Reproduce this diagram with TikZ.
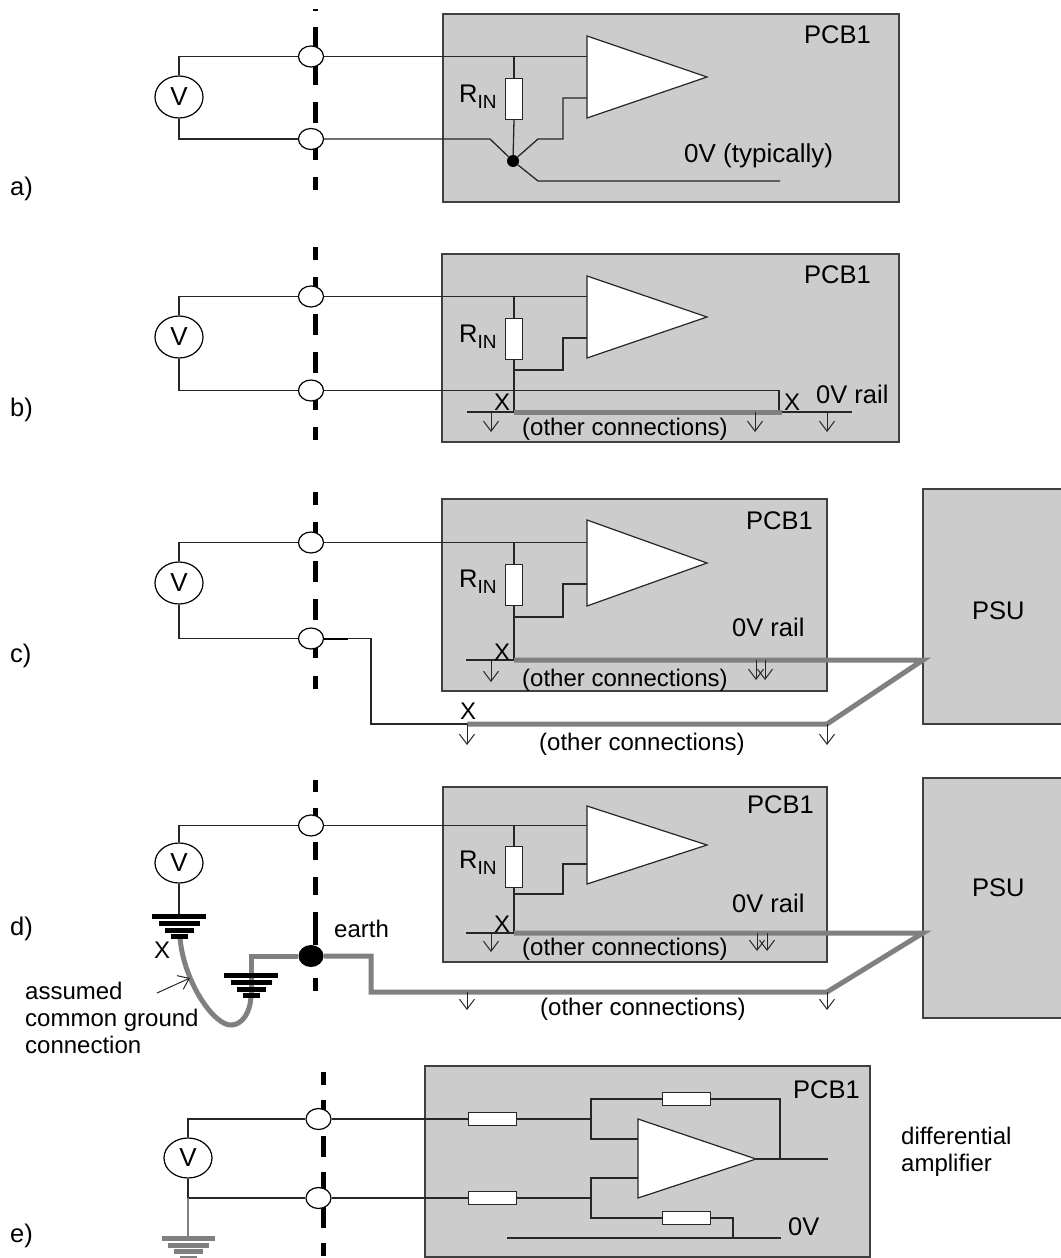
\documentclass[tikz,border=0pt]{standalone}
\usepackage{fontspec}
\setmainfont{Liberation Sans}
\usepackage{tikz}
\usetikzlibrary{arrows.meta, positioning, shapes.geometric, calc}
\newcommand{\rin}{R\raisebox{-6pt}{\fontsize{19}{19}\selectfont IN}}

\begin{document}
\begin{tikzpicture}[x=1pt, y=-1pt, font=\fontsize{24}{27}\selectfont,
                wire/.style={line width=1.3pt, black!85},
                rail/.style={line width=5pt, black!50},
                barrier/.style={line width=5pt, black},
                gnd arrow/.style={line width=1pt, black!85, -{Straight Barb[length=10pt, width=15pt]}},
                pcb box/.style={draw=black!75, line width=1.5pt, fill=black!20, anchor=north west, inner sep=0pt, outer sep=0pt},
                meter/.style={draw, ellipse, fill=white, line width=1.2pt, minimum width=48pt, minimum height=42pt, inner sep=0pt, font=\fontsize{26}{27}\selectfont},
                conn/.style={draw, ellipse, fill=white, line width=1.2pt, minimum width=25pt, minimum height=21pt, inner sep=0pt},
                res v/.style={draw=black!85, fill=white, line width=1.2pt, minimum width=17pt, minimum height=41pt, inner sep=0pt, anchor=north},
                res h/.style={draw=black!85, fill=white, line width=1.2pt, minimum width=48pt, minimum height=13pt, inner sep=0pt, anchor=west},
                amp/.style={draw=black!85, fill=white, line width=1.2pt, line join=miter},
                txt/.style={anchor=base west, inner sep=0pt},
                big txt/.style={txt, font=\fontsize{25.5}{27}\selectfont}]
    \useasboundingbox (0,0) rectangle (1060,1258);

    % Boards and supplies
    \node[pcb box, minimum width=456pt, minimum height=188pt] (pcba) at (443,14) {};
    \node[pcb box, minimum width=457pt, minimum height=188pt] (pcbb) at (442,254) {};
    \node[pcb box, minimum width=385pt, minimum height=192pt] (pcbc) at (442,499) {};
    \node[pcb box, minimum width=384pt, minimum height=175pt] (pcbd) at (443,787) {};
    \node[pcb box, minimum width=445pt, minimum height=191pt] (pcbe) at (425,1066) {};
    \node[pcb box, minimum width=139pt, minimum height=235pt] (psuc) at (923,489) {};
    \node[pcb box, minimum width=139pt, minimum height=240pt] (psud) at (923,778) {};
    \node[big txt] (psuctxt) at (972,619) {PSU};
    \node[big txt] (psudtxt) at (972,896) {PSU};

    % Dashed barriers
    \foreach \ya/\yb in {9/11, 27/85, 102/123, 130/160, 177/190,
                         247/260, 277/296, 314/335, 352/373, 400/410, 427/440,
                         492/505, 522/540, 561/582, 599/620, 648/658, 676/689,
                         780/792, 808/825, 842/860, 877/895, 912/945, 978/991}
        \draw[barrier] (315,\ya) -- (315,\yb);
    \foreach \ya/\yb in {1072/1085, 1100/1115, 1136/1157, 1172/1228, 1243/1256}
        \draw[barrier] (323,\ya) -- (323,\yb);

    % a) input stage
    \node[meter] (va) at (179,97) {V};
    \node[conn] (conna1) at (311,56.5) {};
    \node[conn] (conna2) at (311,139) {};
    \node[res v] (rina) at (514,78) {};
    \coordinate (topa) at (179,56.5);
    \coordinate (bota) at (179,139);
    \coordinate (inputa) at (587,56.5);
    \coordinate (amptopa) at (587,36);
    \coordinate (ampbota) at (587,118);
    \coordinate (ampouta) at (707,77);
    \coordinate (knee1a) at (490,139);
    \coordinate (knee2a) at (538,139);
    \coordinate (stepa) at (563,98);
    \coordinate (knee3a) at (538,181);
    \coordinate (enda) at (780,181);
    \node[circle, fill=black, minimum size=12pt, inner sep=0pt] (dota) at (513,161) {};
    \draw[wire] (va.north) -- (topa) -- (conna1.west);
    \draw[wire] (va.south) -- (bota) -- (conna2.west);
    \draw[wire] (conna1.east) -- (inputa);
    \draw[wire] (rina.north) -- (rina.north |- conna1.east);
    \draw[wire] (rina.south) -- (dota);
    \draw[wire] (conna2.east) -- (knee1a) -- (dota) -- (knee3a) -- (enda);
    \draw[wire] (dota) -- (knee2a) -| (stepa) -- (587,98);
    \draw[amp] (amptopa) -- (ampouta) -- (ampbota) -- cycle;
    \node[big txt] (rtxta) at (459,102) {\rin};
    \node[big txt] (pcbtxta) at (804,43) {PCB1};
    \node[big txt, font=\fontsize{26}{27}\selectfont] (ztxta) at (684,162) {0V (typically)};
    \node[big txt] (laba) at (10,195) {a)};

    % b) 0V rail on the board
    \node[meter] (vb) at (179,337) {V};
    \node[conn] (connb1) at (311,296.5) {};
    \node[conn] (connb2) at (311,390.5) {};
    \node[res v] (rinb) at (514,318) {};
    \coordinate (topb) at (179,296.5);
    \coordinate (botb) at (179,390.5);
    \coordinate (inputb) at (587,296.5);
    \coordinate (amptopb) at (587,276);
    \coordinate (ampbotb) at (587,358);
    \coordinate (ampoutb) at (707,317);
    \coordinate (stepb) at (563,370);
    \coordinate (raila) at (514,412);
    \coordinate (railb) at (782,412);
    \coordinate (railstartb) at (467,412);
    \coordinate (railendb) at (852,412);
    \coordinate (upb) at (779,390.5);
    \draw[wire] (vb.north) -- (topb) -- (connb1.west);
    \draw[wire] (vb.south) -- (botb) -- (connb2.west);
    \draw[wire] (connb1.east) -- (inputb);
    \draw[wire] (rinb.north) -- (rinb.north |- connb1.east);
    \draw[wire] (rinb.south) -- (raila);
    \draw[wire] (rinb.south |- stepb) -- (stepb) -- (563,338) -- (587,338);
    \draw[wire] (railstartb) -- (railendb);
    \draw[wire] (connb2.east) -- (upb) -- (upb |- railb);
    \draw[rail] (raila) -- (railb);
    \foreach \ax in {491,755,827} {
        \coordinate (stub) at (\ax,412);
        \draw[gnd arrow] (stub) -- ++(0,20);
    }
    \draw[amp] (amptopb) -- (ampoutb) -- (ampbotb) -- cycle;
    \node[big txt] (rtxtb) at (459,342) {\rin};
    \node[big txt] (pcbtxtb) at (804,283) {PCB1};
    \node[big txt] (ztxtb) at (816,403) {0V rail};
    \node[txt] (xb1) at (494,410) {X};
    \node[txt] (xb2) at (784,410) {X};
    \node[txt] (othb) at (522,435) {(other connections)};
    \node[big txt] (labb) at (10,416) {b)};

    % c) rail taken back to the supply
    \node[meter] (vc) at (179,583) {V};
    \node[conn] (connc1) at (311,542.5) {};
    \node[conn] (connc2) at (311,638.5) {};
    \node[res v] (rinc) at (514,564) {};
    \coordinate (topc) at (179,542.5);
    \coordinate (botc) at (179,638.5);
    \coordinate (inputc) at (587,542.5);
    \coordinate (amptopc) at (587,520);
    \coordinate (ampbotc) at (587,606);
    \coordinate (ampoutc) at (707,563);
    \coordinate (stepc) at (563,617);
    \coordinate (railc) at (514,660);
    \coordinate (railstartc) at (466,660);
    \coordinate (psupc) at (923,660);
    \coordinate (benc) at (827,724);
    \coordinate (retc) at (467,724);
    \coordinate (dropc) at (371,724);
    \coordinate (thickc) at (348,638.5);
    \draw[wire] (vc.north) -- (topc) -- (connc1.west);
    \draw[wire] (vc.south) -- (botc) -- (connc2.west);
    \draw[wire] (connc1.east) -- (inputc);
    \draw[wire] (rinc.north) -- (rinc.north |- connc1.east);
    \draw[wire] (rinc.south) -- (railc);
    \draw[wire] (rinc.south |- stepc) -- (stepc) -- (563,584) -- (587,584);
    \draw[wire] (railstartc) -- (railc);
    \draw[wire] (connc2.east) -- (dropc |- connc2.east) -- (dropc) -- (retc);
    \draw[line width=2pt] (connc2.east) -- (thickc);
    \draw[rail] (railc) -- (psupc) -- (benc) -- (retc);
    \foreach \ax/\ay/\al in {491/660/22, 756/660/20, 765/660/20, 467/724/21, 827/724/21} {
        \coordinate (stub) at (\ax,\ay);
        \draw[gnd arrow] (stub) -- ++(0,\al);
    }
    \draw[amp] (amptopc) -- (ampoutc) -- (ampbotc) -- cycle;
    \node[big txt] (rtxtc) at (459,587) {\rin};
    \node[big txt] (pcbtxtc) at (746,529) {PCB1};
    \node[big txt] (ztxtc) at (732,636) {0V rail};
    \node[txt] (xc1) at (494,660) {X};
    \node[txt] (xc2) at (460,719) {X};
    \node[txt] (othc1) at (522,686) {(other connections)};
    \node[txt] (othc2) at (539,750) {(other connections)};
    \node[big txt] (labc) at (10,662) {c)};

    % d) common ground
    \node[meter, minimum height=40pt] (vd) at (179,863) {V};
    \node[conn] (connd1) at (311,825.5) {};
    \node[res v] (rind) at (514,846) {};
    \coordinate (topd) at (179,825.5);
    \coordinate (inputd) at (587,825.5);
    \coordinate (gnda) at (179,914);
    \coordinate (gndb) at (251,973);
    \coordinate (amptopd) at (587,806);
    \coordinate (ampbotd) at (587,884);
    \coordinate (ampoutd) at (707,845);
    \coordinate (stepd) at (563,894);
    \coordinate (raild) at (514,933);
    \coordinate (railstartd) at (466,933);
    \coordinate (psupd) at (923,933);
    \coordinate (bend) at (827,992);
    \coordinate (dropd) at (371,992);
    \coordinate (cornerd) at (371,956);
    \coordinate (leftd) at (251,956);
    \coordinate (curvea) at (180,938);
    \coordinate (curveb) at (232,1025);
    \coordinate (curvec) at (251,997);
    \coordinate (ptra) at (157,993);
    \coordinate (ptrb) at (190,978);
    \node[ellipse, fill=black, minimum width=25pt, minimum height=22pt, inner sep=0pt] (earthd) at (311,956) {};
    \draw[wire] (vd.north) -- (topd) -- (connd1.west);
    \draw[wire] (vd.south) -- (gnda);
    \draw[wire] (connd1.east) -- (inputd);
    \draw[wire] (rind.north) -- (rind.north |- connd1.east);
    \draw[wire] (rind.south) -- (raild);
    \draw[wire] (rind.south |- stepd) -- (stepd) -- (563,864) -- (587,864);
    \draw[wire] (railstartd) -- (raild);
    \draw[rail] (raild) -- (psupd) -- (bend) -- (dropd) -- (cornerd) -- (earthd);
    \draw[rail] (earthd) -- (leftd) -- (curvec);
    \draw[rail] (curvea) .. controls (184,983) and (215,1027) .. (curveb)
                .. controls (243,1024) and (250,1012) .. (curvec);
    \foreach \ax/\ay/\al in {491/933/19, 757/933/18, 767/933/18, 467/992/18, 827/992/18} {
        \coordinate (stub) at (\ax,\ay);
        \draw[gnd arrow] (stub) -- ++(0,\al);
    }
    \foreach \w/\dy in {27/2.5, 20.5/9.5, 14.5/16, 8.5/22.5} {
        \draw[barrier] ($(gnda)+(-\w,\dy)$) -- ($(gnda)+(\w,\dy)$);
        \draw[barrier] ($(gndb)+(-\w,\dy)$) -- ($(gndb)+(\w,\dy)$);
    }
    \draw[gnd arrow] (ptra) -- (ptrb);
    \draw[amp] (amptopd) -- (ampoutd) -- (ampbotd) -- cycle;
    \node[big txt] (rtxtd) at (459,868) {\rin};
    \node[big txt] (pcbtxtd) at (747,813) {PCB1};
    \node[big txt] (ztxtd) at (732,912) {0V rail};
    \node[txt] (xd1) at (494,932) {X};
    \node[txt] (xd2) at (154,958) {X};
    \node[txt] (earthtxt) at (334,937) {earth};
    \node[anchor=north west, inner sep=0pt, align=left] (asstxt) at (25,981.5) {assumed\\common ground\\connection};
    \node[txt] (othd1) at (522,955) {(other connections)};
    \node[txt] (othd2) at (540,1015) {(other connections)};
    \node[big txt] (labd) at (10,935) {d)};

    % e) differential amplifier
    \node[meter, minimum height=40pt] (ve) at (188,1158) {V};
    \node[conn] (conne1) at (318.5,1119) {};
    \node[conn] (conne2) at (318.5,1198) {};
    \node[res h] (rine1) at (468,1119) {};
    \node[res h] (rine2) at (468,1198) {};
    \node[res h] (rfe) at (662,1099) {};
    \node[res h] (rge) at (662,1218) {};
    \coordinate (tope) at (188,1119);
    \coordinate (bote) at (188,1198);
    \coordinate (gnde) at (188,1236);
    \coordinate (amptope) at (638,1119);
    \coordinate (ampbote) at (638,1198);
    \coordinate (ampoute) at (756,1159);
    \coordinate (juna) at (591,1119);
    \coordinate (junb) at (591,1198);
    \coordinate (fbe) at (780,1159);
    \coordinate (oute) at (828,1159);
    \coordinate (zeroa) at (507,1238);
    \coordinate (zerob) at (781,1238);
    \coordinate (zeroc) at (733,1238);
    \draw[wire] (ve.north) -- (tope) -- (conne1.west);
    \draw[wire] (ve.south) -- (bote) -- (conne2.west);
    \draw[line width=1.3pt, black!50] (bote) -- (gnde);
    \draw[wire] (conne1.east) -- (rine1.west);
    \draw[wire] (conne2.east) -- (rine2.west);
    \draw[wire] (rine1.east) -- (juna) -- (591,1139) -- (638,1139);
    \draw[wire] (juna) |- (rfe.west);
    \draw[wire] (rfe.east) -| (fbe);
    \draw[wire] (ampoute) -- (oute);
    \draw[wire] (rine2.east) -- (junb) -- (591,1178) -- (638,1178);
    \draw[wire] (junb) |- (rge.west);
    \draw[wire] (rge.east) -| (zeroc);
    \draw[wire] (zeroa) -- (zerob);
    \draw[amp] (amptope) -- (ampoute) -- (ampbote) -- cycle;
    \foreach \w/\dy in {26.5/2.5, 20.5/9, 14.5/15.5, 8.5/22} {
        \draw[line width=5pt, black!50] ($(gnde)+(-\w,\dy)$) -- ($(gnde)+(\w,\dy)$);
    }
    \node[big txt] (pcbtxte) at (793,1098) {PCB1};
    \node[big txt] (ztxte) at (788,1235) {0V};
    \node[anchor=north west, inner sep=0pt, align=left] (difftxt) at (901,1126.5) {differential\\amplifier};
    \node[big txt] (labe) at (10,1242) {e)};
\end{tikzpicture}
\end{document}
